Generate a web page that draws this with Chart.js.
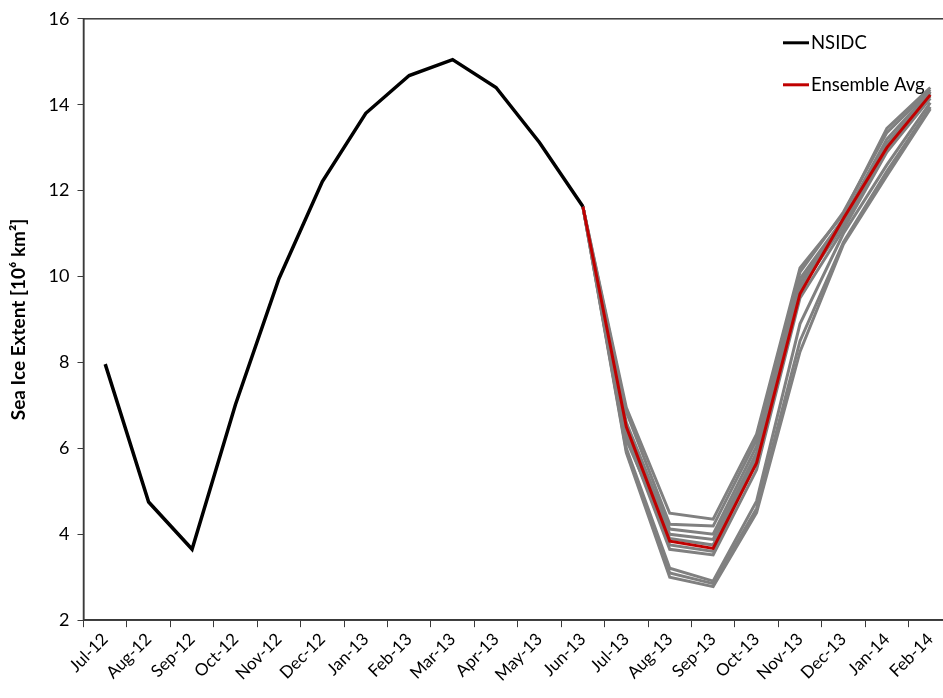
<!DOCTYPE html>
<html>
<head>
<meta charset="utf-8">
<script src="https://cdn.jsdelivr.net/npm/chart.js@4/dist/chart.umd.min.js"></script>
<style>
  html, body { margin: 0; padding: 0; background: #fff; overflow: hidden; }
  #wrap { width: 952px; height: 698px; }
</style>
</head>
<body>
<div id="wrap"><canvas id="c" width="952" height="698"></canvas></div>
<script>
// ---- data ----
const months = ["Jul-12","Aug-12","Sep-12","Oct-12","Nov-12","Dec-12","Jan-13","Feb-13","Mar-13","Apr-13","May-13","Jun-13","Jul-13","Aug-13","Sep-13","Oct-13","Nov-13","Dec-13","Jan-14","Feb-14"];
// NSIDC observed extent, Jul-12 .. Jun-13
const nsidc = [7.96, 4.75, 3.65, 7.02, 9.95, 12.21, 13.80, 14.68, 15.05, 14.40, 13.12, 11.63];
// Ensemble forecasts, Jun-13 .. Feb-14
const ensembleAvg = [11.63, 6.50, 3.84, 3.67, 5.66, 9.60, 11.35, 13.00, 14.23];
const member1  = [11.63, 6.95, 4.49, 4.35, 6.33, 10.20, 11.45, 13.45, 14.40];
const member2  = [11.63, 6.85, 4.23, 4.19, 6.20, 10.10, 11.50, 13.35, 14.35];
const member3  = [11.63, 6.60, 4.12, 4.00, 6.05,  9.95, 11.35, 13.20, 14.30];
const member4  = [11.63, 6.50, 4.00, 3.88, 5.90,  9.85, 11.30, 13.10, 14.25];
const member5  = [11.63, 6.40, 3.75, 3.60, 5.75,  9.70, 11.20, 13.00, 14.30];
const member6  = [11.63, 6.30, 3.65, 3.52, 5.50,  9.50, 11.10, 12.90, 14.15];
const member7  = [11.63, 6.20, 3.90, 3.75, 5.80,  9.75, 11.25, 13.05, 14.20];
const member8  = [11.63, 6.00, 3.21, 2.91, 4.77,  8.90, 11.00, 12.60, 14.05];
const member9  = [11.63, 5.95, 3.10, 2.85, 4.60,  8.50, 10.80, 12.45, 13.95];
const member10 = [11.63, 5.90, 3.00, 2.78, 4.50,  8.25, 10.75, 12.35, 13.90];
const members = [member1, member2, member3, member4, member5, member6, member7, member8, member9, member10];
const yTicks = [2, 4, 6, 8, 10, 12, 14, 16];

// ---- build padded series ----
const forecastStart = months.indexOf("Jun-13");
function padObs(arr) { return months.map((m, i) => i < arr.length ? arr[i] : null); }
function padFc(arr) { return months.map((m, i) => i >= forecastStart ? arr[i - forecastStart] : null); }

const FONT = "Lato, 'Open Sans', sans-serif";

const datasets = [];
members.forEach((m, k) => datasets.push({
  label: "member" + (k + 1), data: padFc(m), borderColor: "#808080", borderWidth: 3,
  pointRadius: 0, tension: 0, order: 3, spanGaps: false
}));
datasets.push({ label: "Ensemble Avg", data: padFc(ensembleAvg), borderColor: "#C00000", borderWidth: 3, pointRadius: 0, tension: 0, order: 2 });
datasets.push({ label: "NSIDC", data: padObs(nsidc), borderColor: "#000000", borderWidth: 3.5, pointRadius: 0, tension: 0, order: 1 });

const frame = {
  id: "frame",
  afterDatasetsDraw(chart) {
    const a = chart.chartArea, ctx = chart.ctx;
    ctx.save();
    ctx.strokeStyle = "#3a3a3a"; ctx.lineWidth = 1.5;
    ctx.strokeRect(a.left, a.top, a.right - a.left, a.bottom - a.top);
    // legend
    const items = [["NSIDC", "#000000"], ["Ensemble Avg", "#C00000"]];
    ctx.font = "18.5px " + FONT; ctx.textBaseline = "middle"; ctx.textAlign = "left";
    items.forEach((it, i) => {
      const y = a.top + 24 + i * 42;
      const x0 = 783;
      ctx.strokeStyle = it[1]; ctx.lineWidth = 3;
      ctx.beginPath(); ctx.moveTo(x0, y); ctx.lineTo(x0 + 26, y); ctx.stroke();
      ctx.fillStyle = "#000"; ctx.fillText(it[0], x0 + 28, y);
    });
    ctx.restore();
  }
};

new Chart(document.getElementById("c"), {
  type: "line",
  data: { labels: months, datasets },
  plugins: [frame],
  options: {
    responsive: false, animation: false,
    layout: { padding: { top: 9, right: 0, bottom: 11, left: 7 } },
    plugins: { legend: { display: false }, tooltip: { enabled: false } },
    scales: {
      x: {
        offset: true,
        grid: { offset: true, drawOnChartArea: false, drawTicks: true, tickLength: 7, color: "#3a3a3a" },
        border: { display: true, color: "#3a3a3a", width: 1.5 },
        ticks: { color: "#000", font: { family: FONT, size: 17 }, maxRotation: 45, minRotation: 45, autoSkip: false, padding: 2 }
      },
      y: {
        min: 2, max: 16,
        afterBuildTicks(scale) { scale.ticks = yTicks.map(v => ({ value: v })); },
        afterFit(scale) { scale.width = 76.5; },
        grid: { drawOnChartArea: false, drawTicks: true, tickLength: 6, color: "#3a3a3a" },
        border: { display: true, color: "#3a3a3a", width: 1.5 },
        ticks: { color: "#000", font: { family: FONT, size: 18 }, padding: 8 },
        title: { display: true, text: "Sea Ice Extent [10\u2076 km\u00b2]", color: "#000", font: { family: FONT, size: 19, weight: "bold" }, padding: { top: 0, bottom: 4 } }
      }
    }
  }
});
</script>
</body>
</html>
